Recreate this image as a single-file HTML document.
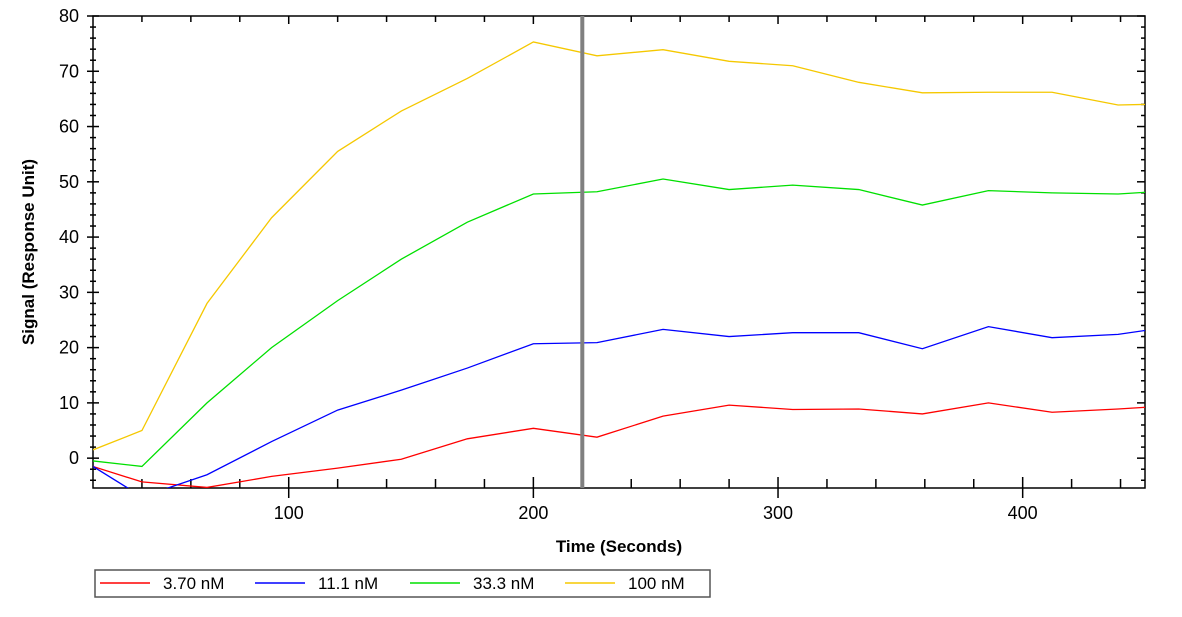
<!DOCTYPE html>
<html><head><meta charset="utf-8"><style>
body{margin:0;background:#fff;font-family:"Liberation Sans",sans-serif}
</style></head><body>
<svg id="c" width="1182" height="612" xmlns="http://www.w3.org/2000/svg">
<defs><clipPath id="clip"><rect x="93" y="16" width="1052" height="472"/></clipPath></defs>
<g id="ax"></g><g id="series" clip-path="url(#clip)"></g><g id="lg"></g>
</svg>
<script>
const times=[20,40,66.6,93,120,146,173,200,226,253,280,306,333,359,386,412,439,450];
const red=[-1.5,-4.3,-5.3,-3.3,-1.8,-0.2,3.5,5.4,3.8,7.6,9.6,8.8,8.9,8,10,8.3,8.9,9.2];
const blue=[-1.5,-7,-3,3,8.7,12.3,16.3,20.7,20.9,23.3,22,22.7,22.7,19.8,23.8,21.8,22.4,23.1];
const green=[-0.5,-1.5,10,20,28.5,36,42.7,47.8,48.2,50.5,48.6,49.4,48.6,45.8,48.4,48,47.8,48.1];
const yellow=[1.5,5,28,43.5,55.5,62.8,68.7,75.3,72.8,73.9,71.8,71,68,66.1,66.2,66.2,63.9,64];
const seriesNames=["3.70 nM","11.1 nM","33.3 nM","100 nM"];
const xTicks=[100,200,300,400];
const yTicks=[0,10,20,30,40,50,60,70,80];
const markerTime=220;
const L=93,R=1145,T=16,B=488,xmin=20,xmax=450,ymin=-5.4,ymax=80;
const X=v=>L+(v-xmin)/(xmax-xmin)*(R-L);
const Y=v=>B-(v-ymin)/(ymax-ymin)*(B-T);
const NS="http://www.w3.org/2000/svg";
function mk(p,t,a){const e=document.createElementNS(NS,t);for(const k in a)e.setAttribute(k,a[k]);p.appendChild(e);return e;}
const ax=document.getElementById('ax'),sg=document.getElementById('series'),lg=document.getElementById('lg');
const frame=mk(ax,'rect',{x:L,y:T,width:R-L,height:B-T,fill:'none',stroke:'#000','stroke-width':1.5});


for(let v=-4;v<=80;v+=2){const y=Y(v),maj=v%10===0,w=maj?6:3;
 mk(ax,'line',{x1:L-w,x2:L+w,y1:y,y2:y,stroke:'#000','stroke-width':1.5});
 mk(ax,'line',{x1:R-(maj?8:4),x2:R,y1:y,y2:y,stroke:'#000','stroke-width':1.5});}
yTicks.forEach(v=>{const t=mk(ax,'text',{x:L-14,y:Y(v)+6,'text-anchor':'end','font-size':18});t.textContent=v;
 
 });
for(let v=40;v<=440;v+=20){const x=X(v),maj=v%100===0;
 mk(ax,'line',{x1:x,x2:x,y1:maj?B-11:B-9,y2:maj?B+10:B,stroke:'#000','stroke-width':1.5});
 mk(ax,'line',{x1:x,x2:x,y1:T,y2:T+(maj?8:6),stroke:'#000','stroke-width':1.5});}
xTicks.forEach(v=>{const t=mk(ax,'text',{x:X(v),y:B+31,'text-anchor':'middle','font-size':18});t.textContent=v;
 
 });
const xt=mk(ax,'text',{x:619,y:552,'text-anchor':'middle','font-size':17,'font-weight':'bold'});xt.textContent='Time (Seconds)';


const yt=mk(ax,'text',{x:0,y:0,'text-anchor':'middle','font-size':17,'font-weight':'bold',transform:'translate(34,252) rotate(-90)'});yt.textContent='Signal (Response Unit)';


const data=[red,blue,green,yellow],cols=['#ff0000','#0000ff','#00e000','#f5c800'];
data.forEach((s,i)=>{const p=mk(sg,'polyline',{points:s.map((v,j)=>X(times[j])+','+Y(v)).join(' '),fill:'none',stroke:cols[i],'stroke-width':1.3});
 
 });
const ml=mk(sg,'line',{x1:X(markerTime),x2:X(markerTime),y1:T,y2:B,stroke:'#808080','stroke-width':4});


const lb=mk(lg,'rect',{x:95,y:570,width:615,height:27,fill:'#fff',stroke:'#555','stroke-width':1.5});


seriesNames.forEach((n,i)=>{const x0=100+i*155;
 const l=mk(lg,'line',{x1:x0,x2:x0+50,y1:583,y2:583,stroke:cols[i],'stroke-width':1.5});
 
 
 const t=mk(lg,'text',{x:x0+63,y:589,'font-size':17});t.textContent=n;
 
 });
</script>
</body></html>
